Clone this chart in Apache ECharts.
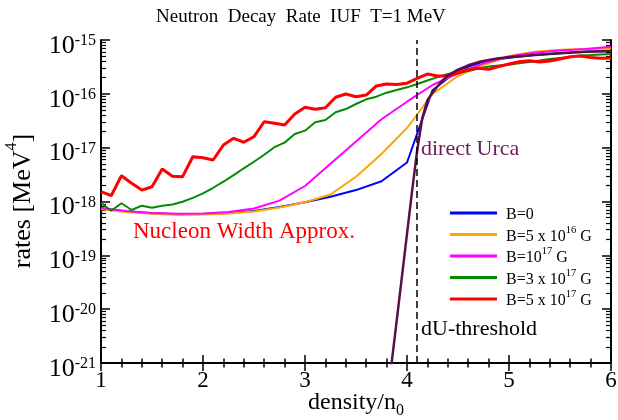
<!DOCTYPE html>
<html>
<head>
<meta charset="utf-8">
<script src="https://cdn.jsdelivr.net/npm/echarts@6/dist/echarts.min.js"></script>
<style>
  html, body { margin: 0; padding: 0; background: #fff; }
  #main { width: 618px; height: 420px; }
  #err { position: absolute; left: 0; top: 0; font: 11px monospace; color: #c00; }
</style>
</head>
<body>
<div id="main"></div>
<div id="err"></div>
<script>
window.onerror = function (msg) { document.getElementById('err').textContent = msg; };
// density grids (n/n0)
var xsFine = [1.0,1.1,1.2,1.3,1.4,1.5,1.6,1.7,1.8,1.9,2.0,2.1,2.2,2.3,2.4,2.5,2.6,2.7,2.8,2.9,3.0,
  3.1,3.2,3.3,3.4,3.5,3.6,3.7,3.8,3.9,4.0,4.1,4.2,4.3,4.4,4.5,4.6,4.7,4.8,4.9,5.0,
  5.1,5.2,5.3,5.4,5.5,5.6,5.7,5.8,5.9,6.0];
var xsCoarse = [1.0,1.25,1.5,1.75,2.0,2.25,2.5,2.75,3.0,3.25,3.5,3.75,4.0,4.25,4.5,4.75,5.0,5.25,5.5,5.75,6.0];
var xsUrca = [3.83,3.9,3.95,4.0,4.05,4.1,4.15,4.2,4.25,4.3,4.35,4.4,4.5,4.6,4.7,4.8,4.9,5.0,5.25,5.5,5.75,6.0];

// rates [MeV^4]
var rateB0 = [7.46e-19,6.52e-19,6.04e-19,5.81e-19,5.86e-19,6.11e-19,6.65e-19,7.91e-19,9.66e-19,1.23e-18,
  1.63e-18,2.38e-18,5.30e-18,1.17e-16,2.75e-16,3.98e-16,4.68e-16,5.25e-16,5.69e-16,6.03e-16,6.24e-16];
var rateB5e16 = [7.16e-19,6.38e-19,5.90e-19,5.66e-19,5.73e-19,5.98e-19,6.52e-19,7.74e-19,9.66e-19,1.35e-18,
  2.88e-18,7.62e-18,2.32e-17,9.93e-17,2.14e-16,3.44e-16,5.05e-16,6.07e-16,6.61e-16,6.81e-16,6.95e-16];
var rateB1e17 = [7.46e-19,6.65e-19,6.11e-19,5.90e-19,5.98e-19,6.38e-19,7.41e-19,1.04e-18,1.94e-18,5.01e-18,
  1.30e-17,3.37e-17,7.14e-17,1.46e-16,2.39e-16,3.69e-16,4.93e-16,5.81e-16,6.38e-16,6.81e-16,7.52e-16];
var rateB3e17 = [9.51e-19,6.75e-19,9.27e-19,6.95e-19,8.36e-19,7.67e-19,8.36e-19,8.79e-19,9.91e-19,1.17e-18,
  1.42e-18,1.80e-18,2.33e-18,3.10e-18,4.14e-18,5.48e-18,7.40e-18,1.02e-17,1.24e-17,1.79e-17,
  2.07e-17,2.96e-17,3.27e-17,4.54e-17,5.22e-17,6.47e-17,7.91e-17,8.85e-17,1.05e-16,1.18e-16,
  1.32e-16,1.52e-16,1.77e-16,2.04e-16,2.33e-16,2.49e-16,2.65e-16,2.96e-16,3.22e-16,3.36e-16,
  3.46e-16,3.69e-16,3.90e-16,4.16e-16,4.44e-16,4.63e-16,4.83e-16,5.15e-16,5.26e-16,5.38e-16,5.50e-16];
var rateB5e17 = [1.52e-18,1.28e-18,3.01e-18,2.18e-18,1.63e-18,1.88e-18,4.02e-18,2.94e-18,2.89e-18,6.79e-18,
  6.50e-18,5.90e-18,1.12e-17,1.49e-17,1.26e-17,1.60e-17,3.03e-17,2.84e-17,2.64e-17,4.22e-17,
  5.62e-17,5.16e-17,5.52e-17,8.63e-17,9.93e-17,8.85e-17,9.51e-17,1.40e-16,1.52e-16,1.49e-16,
  1.58e-16,1.93e-16,2.33e-16,2.14e-16,2.14e-16,2.44e-16,2.83e-16,2.98e-16,2.86e-16,3.22e-16,
  3.58e-16,3.95e-16,4.12e-16,3.90e-16,4.07e-16,4.44e-16,4.90e-16,5.05e-16,4.73e-16,4.57e-16,4.63e-16];
var rateUrca = [5.01e-22,6.31e-21,3.98e-20,2.51e-19,1.58e-18,8.91e-18,3.55e-17,7.59e-17,1.05e-16,1.38e-16,
  1.78e-16,2.19e-16,2.82e-16,3.39e-16,3.89e-16,4.27e-16,4.57e-16,4.79e-16,5.25e-16,5.69e-16,6.03e-16,6.25e-16];

var legendNames = ['B=0','B=5 x 10^16 G','B=10^17 G','B=3 x 10^17 G','B=5 x 10^17 G'];
var legendRich = {
  'B=0': '{t|B=0}',
  'B=5 x 10^16 G': '{t|B=5 x 10}{s|16}{t| G}',
  'B=10^17 G': '{t|B=10}{s|17}{t| G}',
  'B=3 x 10^17 G': '{t|B=3 x 10}{s|17}{t| G}',
  'B=5 x 10^17 G': '{t|B=5 x 10}{s|17}{t| G}'
};
var thresholdX = 4.1;

// decade exponents for the y labels, minor ticks (2..9) in log10 units
var decades = [-21,-20,-19,-18,-17,-16,-15];
var minorTicks = [];
for (var e = -21; e < -15; e++) {
  for (var k = 2; k <= 9; k++) minorTicks.push(e + Math.log10(k));
}

function zip(xs, ys) {
  var out = [];
  for (var i = 0; i < xs.length; i++) out.push([xs[i], ys[i]]);
  return out;
}

var font = 'Liberation Serif';
var myChart = echarts.init(document.getElementById('main'));

function mkLine(name, xs, ys, color, width) {
  return {
    name: name, type: 'line', xAxisIndex: 0, yAxisIndex: 0,
    data: zip(xs, ys), symbol: 'none', animation: false,
    lineStyle: { color: color, width: width }, itemStyle: { color: color }
  };
}

var series = [
  mkLine('B=0', xsCoarse, rateB0, '#0000ff', 2),
  mkLine('B=5 x 10^16 G', xsCoarse, rateB5e16, '#ffa500', 2),
  mkLine('B=10^17 G', xsCoarse, rateB1e17, '#ff00ff', 2),
  mkLine('B=3 x 10^17 G', xsFine, rateB3e17, '#008c00', 2),
  mkLine('B=5 x 10^17 G', xsFine, rateB5e17, '#ff0000', 3),
  mkLine('direct Urca', xsUrca, rateUrca, '#5a0f46', 2.5)
];
series[5].markLine = {
  silent: true, symbol: 'none', animation: false,
  label: { show: false },
  lineStyle: { color: '#000', type: [7, 4], width: 1.5 },
  data: [{ xAxis: thresholdX }]
};

var xBase = {
  type: 'value', min: 1, max: 6, interval: 1, gridIndex: 0,
  axisLine: { lineStyle: { color: '#000', width: 2 } },
  axisTick: { inside: true, length: 8, lineStyle: { color: '#000', width: 1.5 } },
  minorTick: { show: true, splitNumber: 5, length: 4.5, lineStyle: { color: '#000', width: 1.5 } },
  splitLine: { show: false }
};

var yLabelRich = {
  b: { fontFamily: font, fontSize: 26, color: '#000', lineHeight: 26, padding: [12, 0, 0, 0] },
  s: { fontFamily: font, fontSize: 16, color: '#000', lineHeight: 16, padding: [6, 0, 0, 0], verticalAlign: 'top' }
};

var option = {
  backgroundColor: '#fff',
  animation: false,
  title: {
    text: 'Neutron  Decay  Rate  IUF  T=1 MeV',
    left: 151, top: 3,
    textStyle: { fontFamily: font, fontSize: 19, fontWeight: 'normal', color: '#000' }
  },
  grid: { left: 101, right: 7, top: 40, bottom: 57, containLabel: false, outerBoundsMode: 'none' },
  legend: {
    data: legendNames,
    orient: 'vertical',
    left: 445, top: 198,
    icon: 'rect', itemWidth: 47, itemHeight: 3, itemGap: 1.5,
    formatter: function (n) { return legendRich[n]; },
    textStyle: {
      fontFamily: font, color: '#000', lineHeight: 20, padding: [0, 0, 0, 4],
      rich: {
        t: { fontFamily: font, fontSize: 16, color: '#000', lineHeight: 20, verticalAlign: 'bottom' },
        s: { fontFamily: font, fontSize: 10.5, color: '#000', lineHeight: 20, verticalAlign: 'top' }
      }
    }
  },
  xAxis: [
    Object.assign({}, xBase, {
      position: 'bottom',
      name: '{n|density/n}{b|0}', nameLocation: 'middle', nameGap: 28, nameMoveOverlap: false,
      nameTextStyle: {
        rich: {
          n: { fontFamily: font, fontSize: 24, color: '#000', lineHeight: 28, verticalAlign: 'top' },
          b: { fontFamily: font, fontSize: 16, color: '#000', lineHeight: 28, verticalAlign: 'bottom' }
        }
      },
      axisLabel: { fontFamily: font, fontSize: 23, color: '#000', margin: 6, showMinLabel: true, showMaxLabel: true }
    }),
    Object.assign({}, xBase, { position: 'top', axisLabel: { show: false } })
  ],
  yAxis: [
    {
      type: 'log', logBase: 10, min: 1e-21, max: 1e-15, interval: 1, position: 'left',
      axisLine: { lineStyle: { color: '#000', width: 2 } },
      axisTick: { inside: true, length: 9, lineStyle: { color: '#000', width: 1.5 } },
      splitLine: { show: false },
      axisLabel: { show: false }
    },
    {
      type: 'log', logBase: 10, min: 1e-21, max: 1e-15, interval: 1, position: 'right',
      axisLine: { lineStyle: { color: '#000', width: 2 } },
      axisTick: { inside: true, length: 9, lineStyle: { color: '#000', width: 1.5 } },
      axisLabel: { show: false }, splitLine: { show: false }
    },
    {
      // decade labels 10^n and minor ticks, on the log10 scale
      type: 'value', min: -21, max: -15, interval: 1, position: 'left',
      axisLine: { show: false },
      axisTick: { inside: true, length: 5, customValues: minorTicks, lineStyle: { color: '#000', width: 1.2 } },
      axisLabel: {
        margin: 5, customValues: decades, showMinLabel: true, showMaxLabel: true, hideOverlap: false,
        formatter: function (v) { return '{b|10}{s|' + Math.round(v) + '}'; },
        rich: yLabelRich
      },
      splitLine: { show: false }
    },
    {
      type: 'value', min: -21, max: -15, position: 'right',
      axisLine: { show: false },
      axisTick: { inside: true, length: 5, customValues: minorTicks, lineStyle: { color: '#000', width: 1.2 } },
      axisLabel: { show: false }, splitLine: { show: false }
    }
  ],
  graphic: [
    {
      type: 'text', x: 20, y: 201, rotation: Math.PI / 2,
      style: {
        text: '{n|rates [MeV}{s|4}{n|]}', align: 'center', verticalAlign: 'middle',
        rich: {
          n: { fontFamily: font, fontSize: 26, fill: '#000', padding: [6, 0, 0, 0] },
          s: { fontFamily: font, fontSize: 16, fill: '#000', verticalAlign: 'top' }
        }
      }
    },
    { type: 'text', left: 133, top: 220, style: { text: 'Nucleon Width Approx.', fill: '#ff0000', font: '23px "Liberation Serif"' } },
    { type: 'text', left: 421, top: 138, style: { text: 'direct Urca', fill: '#6b1a5a', font: '22px "Liberation Serif"' } },
    { type: 'text', left: 421, top: 318, style: { text: 'dU-threshold', fill: '#000', font: '22px "Liberation Serif"' } }
  ],
  series: series
};

myChart.setOption(option);
</script>
</body>
</html>
